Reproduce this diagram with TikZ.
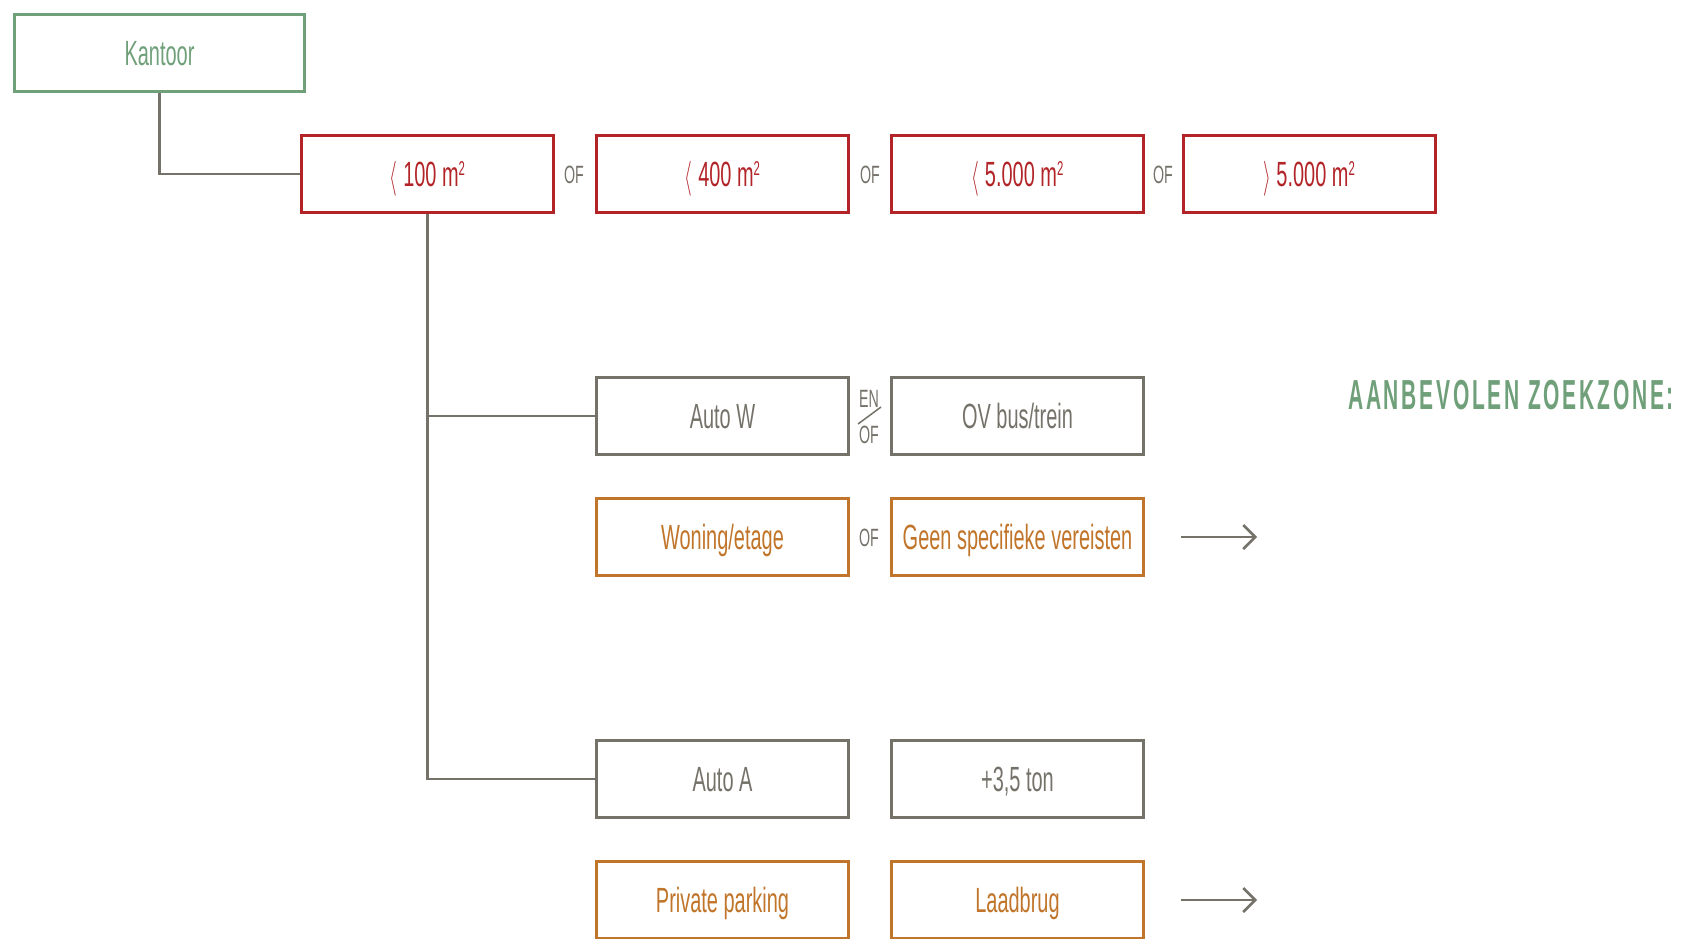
\documentclass[tikz,border=0pt]{standalone}
\usepackage{fontspec}
\setmainfont{Liberation Sans}[FakeStretch=0.57]
\newfontfamily\headfont{Liberation Sans}[FakeStretch=0.5,LetterSpace=6.5]
\usetikzlibrary{arrows.meta}

\definecolor{zgreen}{RGB}{111,160,122}
\definecolor{zred}{RGB}{178,36,40}
\definecolor{zgray}{RGB}{117,114,106}
\definecolor{zorange}{RGB}{192,117,42}

\newcommand{\zlt}{\raisebox{-1pt}{\scalebox{0.8}[1.4]{$\langle$}}}
\newcommand{\zgt}{\raisebox{-1pt}{\scalebox{0.8}[1.4]{$\rangle$}}}
\newcommand{\zsq}{\raisebox{11pt}{\fontsize{20}{20}\selectfont 2}}

\tikzset{
  box/.style={draw,line width=3pt,minimum width=252pt,minimum height=77pt,inner sep=0pt,
    text height=25pt,text depth=0pt,font=\fontsize{35}{38}\selectfont},
  greenbox/.style={box,draw=zgreen,text=zgreen,minimum width=290pt},
  redbox/.style={box,draw=zred,text=zred},
  graybox/.style={box,draw=zgray,text=zgray},
  orangebox/.style={box,draw=zorange,text=zorange},
  conj/.style={text=zgray,inner sep=0pt,font=\fontsize{25}{27}\selectfont},
  link/.style={draw=zgray,line width=2.5pt},
  next/.style={link,-{Straight Barb[length=12pt,width=24pt,line width=2.5pt]}}
}

\begin{document}
\begin{tikzpicture}[x=1pt,y=-1pt]
    \useasboundingbox (0,0) rectangle (1681,938);

    % start
    \node[greenbox] (kantoor) at (159.5,53) {Kantoor};

    % surface
    \node[redbox] (m100) at (427.5,174) {\zlt\ 100 m\zsq};
    \node[redbox] (m400) at (722.5,174) {\zlt\ 400 m\zsq};
    \node[redbox] (m5k) at (1017.5,174) {\zlt\ 5.000 m\zsq};
    \node[redbox] (m5kplus) at (1309,174) {\zgt\ 5.000 m\zsq};
    \node[conj] (of1) at (574,175) {OF};
    \node[conj] (of2) at (870,175) {OF};
    \node[conj] (of3) at (1163,175) {OF};

    % mobility
    \node[graybox] (autow) at (722.5,416) {Auto W};
    \node[graybox] (ov) at (1017.5,416) {OV bus/trein};
    \node[conj] (en) at (869,399) {EN};
    \node[conj] (of4) at (869,435) {OF};
    \draw[zgray,line width=1.5pt] (858,424) -- (881,407);

    \node[orangebox] (woning) at (722.5,537) {Woning/etage};
    \node[orangebox] (geen) at (1017.5,537) {Geen specifieke vereisten};
    \node[conj] (of5) at (869,538) {OF};

    \node[graybox] (autoa) at (722.5,779) {Auto A};
    \node[graybox] (ton) at (1017.5,779) {+3,5 ton};

    \node[orangebox] (parking) at (722.5,900) {Private parking};
    \node[orangebox] (laadbrug) at (1017.5,900) {Laadbrug};

    % zone
    \node[text=zgreen,anchor=east,inner sep=0pt,font=\headfont\bfseries\fontsize{42}{44}\selectfont]
        (zone) at (1674,395) {AANBEVOLEN ZOEKZONE:};

    % connectors
    \draw[link] (kantoor.south) |- (m100.west);
    \draw[link] (m100.south) |- (autow.west);
    \draw[link] (m100.south) |- (autoa.west);

    \coordinate (z1) at (1257,537);
    \coordinate (z2) at (1257,900);
    \draw[next] (1181,537) -- (z1);
    \draw[next] (1181,900) -- (z2);
\end{tikzpicture}
\end{document}
